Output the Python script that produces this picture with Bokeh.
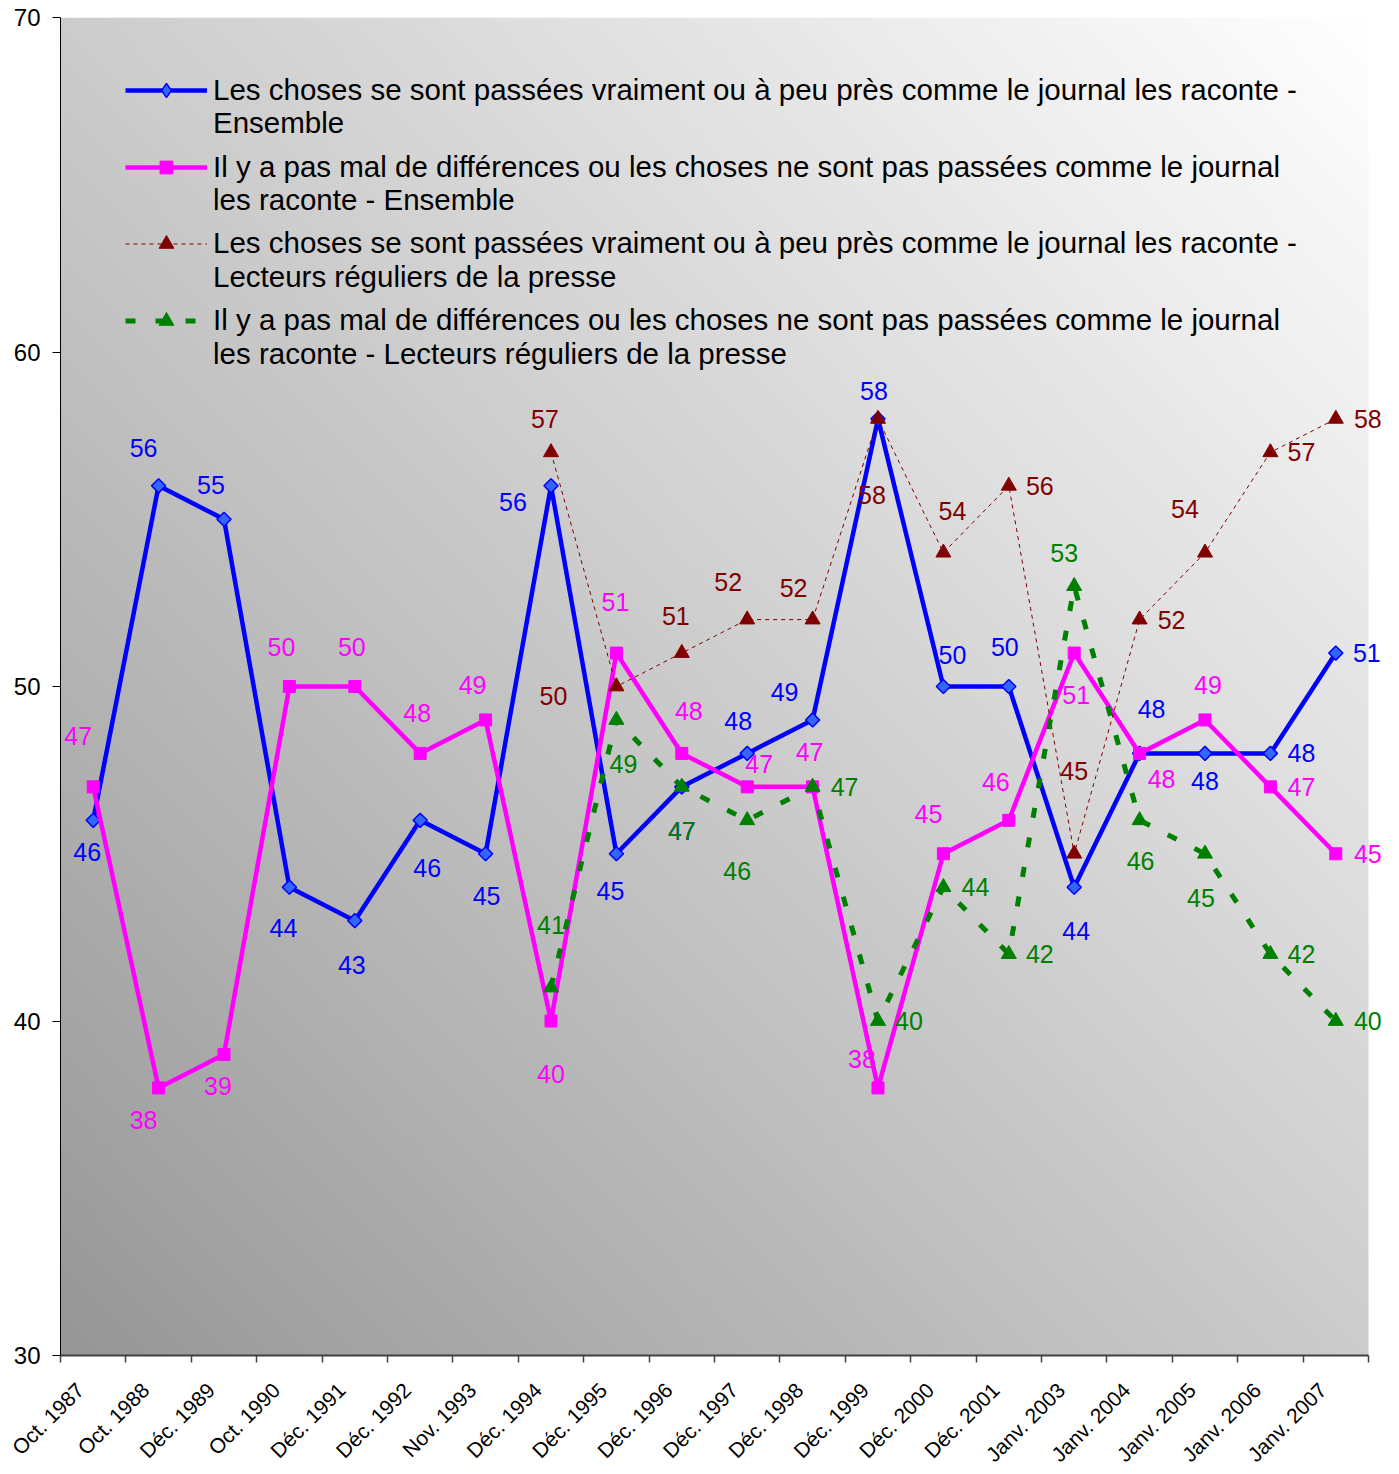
import numpy as np
from bokeh.plotting import figure
from bokeh.models import (Range1d, FixedTicker, Legend, LegendItem, LabelSet,
                          ColumnDataSource)
from bokeh.core.properties import value
from bokeh.embed import file_html
from bokeh.resources import INLINE

# ---------------- data ----------------
categories = ["Oct. 1987", "Oct. 1988", "Déc. 1989", "Oct. 1990", "Déc. 1991",
              "Déc. 1992", "Nov. 1993", "Déc. 1994", "Déc. 1995", "Déc. 1996",
              "Déc. 1997", "Déc. 1998", "Déc. 1999", "Déc. 2000", "Déc. 2001",
              "Janv. 2003", "Janv. 2004", "Janv. 2005", "Janv. 2006", "Janv. 2007"]

ensemble_vrai = [46, 56, 55, 44, 43, 46, 45, 56, 45, 47, 48, 49, 58, 50, 50, 44, 48, 48, 48, 51]
ensemble_diff = [47, 38, 39, 50, 50, 48, 49, 40, 51, 48, 47, 47, 38, 45, 46, 51, 48, 49, 47, 45]

lecteurs_debut = "Déc. 1994"
lecteurs_vrai = [57, 50, 51, 52, 52, 58, 54, 56, 45, 52, 54, 57, 58]
lecteurs_diff = [41, 49, 47, 46, 47, 40, 44, 42, 53, 46, 45, 42, 40]

y_ticks = [30, 40, 50, 60, 70]

legend_line1 = [
    "Les choses se sont passées vraiment ou à peu près comme le journal les raconte -",
    "Il y a pas mal de différences ou les choses ne sont pas passées comme le journal",
    "Les choses se sont passées vraiment ou à peu près comme le journal les raconte -",
    "Il y a pas mal de différences ou les choses ne sont pas passées comme le journal",
]
legend_line2 = [
    "Ensemble",
    "les raconte - Ensemble",
    "Lecteurs réguliers de la presse",
    "les raconte - Lecteurs réguliers de la presse",
]

# label placement (pixel offsets dx, dy; dy positive = downward)
off_ens_vrai = [(-6, 32), (-15, -38), (-13, -34), (-6, 41), (-3, 44), (7, 48), (1, 42), (-38, 16),
                (-6, 37), (0, 44), (-9, -32), (-28, -28), (-4, -28), (9, -32), (-4, -40), (2, 44),
                (12, -44), (0, 28), (31, 0), (31, 0)]
off_ens_diff = [(-15, -51), (-15, 32), (-6, 32), (-8, -40), (-3, -40), (-3, -40), (-13, -35), (0, 53),
                (-1, -51), (7, -42), (12, -23), (-3, -35), (-16, -29), (-15, -40), (-13, -38), (2, 42),
                (22, 26), (3, -35), (31, 0), (32, 0)]
off_lec_vrai = [(-6, -33), (-63, 9), (-6, -37), (-19, -38), (-19, -32), (-6, 76), (9, -42), (31, 0),
                (0, -83), (32, 0), (-20, -44), (31, 0), (32, 0)]
off_lec_diff = [(0, -63), (7, 44), (0, 44), (-10, 51), (32, 0), (31, 0), (32, 0), (31, 0),
                (-10, -33), (1, 41), (-4, 44), (31, 0), (32, 0)]

# ---------------- figure ----------------
FONT = "Liberation Sans"
PLOT_W, FRAME_H = 1308, 1338      # visible plot area
RIGHT_EXTRA = 31                  # room for the labels right of the plot area
n = len(categories)
px_per_cat = PLOT_W / n
p = figure(frame_width=PLOT_W + RIGHT_EXTRA, frame_height=FRAME_H,
           x_range=Range1d(-0.5, n - 0.5 + RIGHT_EXTRA / px_per_cat),
           y_range=Range1d(y_ticks[0], y_ticks[-1]),
           output_backend="svg", toolbar_location=None,
           min_border_left=60, min_border_top=17, min_border_right=0, min_border_bottom=115)
p.outline_line_color = None
p.xgrid.visible = False
p.ygrid.visible = False
p.background_fill_color = "white"
p.border_fill_color = "white"

# gradient background (bottom-left dark grey -> top-right white)
NX, NY = 300, 300
u = np.linspace(0, 1, NX)[None, :]
v = np.linspace(0, 1, NY)[:, None]
t = (u + v) / 2.0
g = (150 + 105 * t ** 0.95).clip(0, 255).astype(np.uint32)
img = (np.uint32(255) << 24) | (g << 16) | (g << 8) | g
p.image_rgba(image=[img.astype(np.uint32)], x=-0.5, y=y_ticks[0], dw=n, dh=y_ticks[-1] - y_ticks[0])

xs = list(range(n))
start = categories.index(lecteurs_debut)
xs_lec = list(range(start, start + len(lecteurs_vrai)))

# series
l1 = p.line(xs, ensemble_vrai, line_color="#0000FF", line_width=4.5)
# diamond layer (used for the legend symbol; hidden under the rotated squares in the plot)
leg_diamond = p.scatter(xs, ensemble_vrai, marker="diamond", size=12, fill_color="#3366FF",
                        line_color="#0000FF", line_width=1.5)
m1 = p.scatter(xs, ensemble_vrai, marker="square", size=10, angle=np.pi / 4,
               fill_color="#3366FF", line_color="#0000FF", line_width=1.5)
l2 = p.line(xs, ensemble_diff, line_color="#FF00FF", line_width=4.5)
m2 = p.scatter(xs, ensemble_diff, marker="square", size=12,
               fill_color="#FF00FF", line_color="#FF00FF")
l3 = p.line(xs_lec, lecteurs_vrai, line_color="#800000", line_width=1, line_dash="4 4")
m3 = p.scatter(xs_lec, lecteurs_vrai, marker="triangle", size=15,
               fill_color="#800000", line_color="#800000")
l4 = p.line(xs_lec, lecteurs_diff, line_color="#008000", line_width=5, line_dash="10 20")
m4 = p.scatter(xs_lec, lecteurs_diff, marker="triangle", size=15,
               fill_color="#008000", line_color="#008000")
# legend-only helper for text-only rows (no data)
dummy = p.scatter(x=[], y=[], marker="circle", size=1, fill_alpha=0, line_alpha=0)

# data labels
def labels(xv, yv, offs, color):
    src = ColumnDataSource(dict(x=xv, y=yv, text=[str(v_) for v_ in yv],
                                dx=[o[0] for o in offs], dy=[-o[1] for o in offs]))
    ls = LabelSet(x="x", y="y", text="text", x_offset="dx", y_offset="dy", source=src,
                  text_align="center", text_baseline="middle",
                  text_font=value(FONT), text_font_size=value("25px"), text_color=color)
    p.add_layout(ls)

labels(xs, ensemble_vrai, off_ens_vrai, "#0000FF")
labels(xs, ensemble_diff, off_ens_diff, "#FF00FF")
labels(xs_lec, lecteurs_vrai, off_lec_vrai, "#800000")
labels(xs_lec, lecteurs_diff, off_lec_diff, "#008000")

# axes
LABEL_SHIFT = -0.2
label_ticks = [i + LABEL_SHIFT for i in xs]
xa = p.xaxis[0]
xa.bounds = (-0.5, n - 0.5)
xa.ticker = FixedTicker(ticks=label_ticks, minor_ticks=[i - 0.5 for i in range(n + 1)])
xa.major_label_overrides = {tk: c for tk, c in zip(label_ticks, categories)}
xa.major_label_orientation = np.pi / 4
xa.major_label_text_font = FONT
xa.major_label_text_font_size = "21px"
xa.major_label_text_color = "black"
xa.major_tick_out = 0
xa.major_tick_in = 0
xa.minor_tick_out = 7
xa.minor_tick_in = 0
xa.minor_tick_line_color = "#404040"
xa.minor_tick_line_width = 1.5
xa.axis_line_color = "#404040"
xa.axis_line_width = 2
xa.major_label_standoff = 24

ya = p.yaxis[0]
ya.ticker = FixedTicker(ticks=y_ticks, minor_ticks=[])
ya.major_label_text_font = FONT
ya.major_label_text_font_size = "24px"
ya.major_label_text_color = "black"
ya.major_tick_out = 8
ya.major_tick_in = 0
ya.major_tick_line_color = "black"
ya.axis_line_color = "black"
ya.axis_line_width = 1
ya.minor_tick_out = 0
ya.minor_tick_in = 0
ya.major_label_standoff = 12

# legend: first lines (one legend per series, for marker sizes), second lines (text only)
ROW = 40
LEG_X = 65
first_centers = [73, 150, 226, 303]      # px from top of the plot area
glyph_heights = [36, 32, 37, 37]
series = [(l1, leg_diamond), (l2, m2), (l3, m3), (l4, m4)]

def style_legend(lg, gh):
    lg.label_text_font = FONT
    lg.label_text_font_size = "29.5px"
    lg.label_text_color = "black"
    lg.glyph_width = 82
    lg.glyph_height = gh
    lg.label_height = ROW
    lg.label_standoff = 6
    lg.padding = 0
    lg.margin = 0
    lg.background_fill_alpha = 0
    lg.border_line_color = None

for k in range(4):
    lg = Legend(items=[LegendItem(label=legend_line1[k], renderers=list(series[k]))],
                location=(LEG_X, FRAME_H - first_centers[k] - ROW // 2))
    style_legend(lg, glyph_heights[k])
    lg.spacing = 0
    p.add_layout(lg)

PITCH = 77
SPACING = PITCH - ROW
second_top_center = first_centers[0] + 33
leg_h = 4 * ROW + 3 * SPACING
lg2 = Legend(items=[LegendItem(label=t_, renderers=[dummy]) for t_ in legend_line2],
             location=(LEG_X, FRAME_H - (second_top_center - ROW // 2) - leg_h))
style_legend(lg2, 20)
lg2.spacing = SPACING
p.add_layout(lg2)

open("out.html", "w").write(file_html(p, INLINE))
